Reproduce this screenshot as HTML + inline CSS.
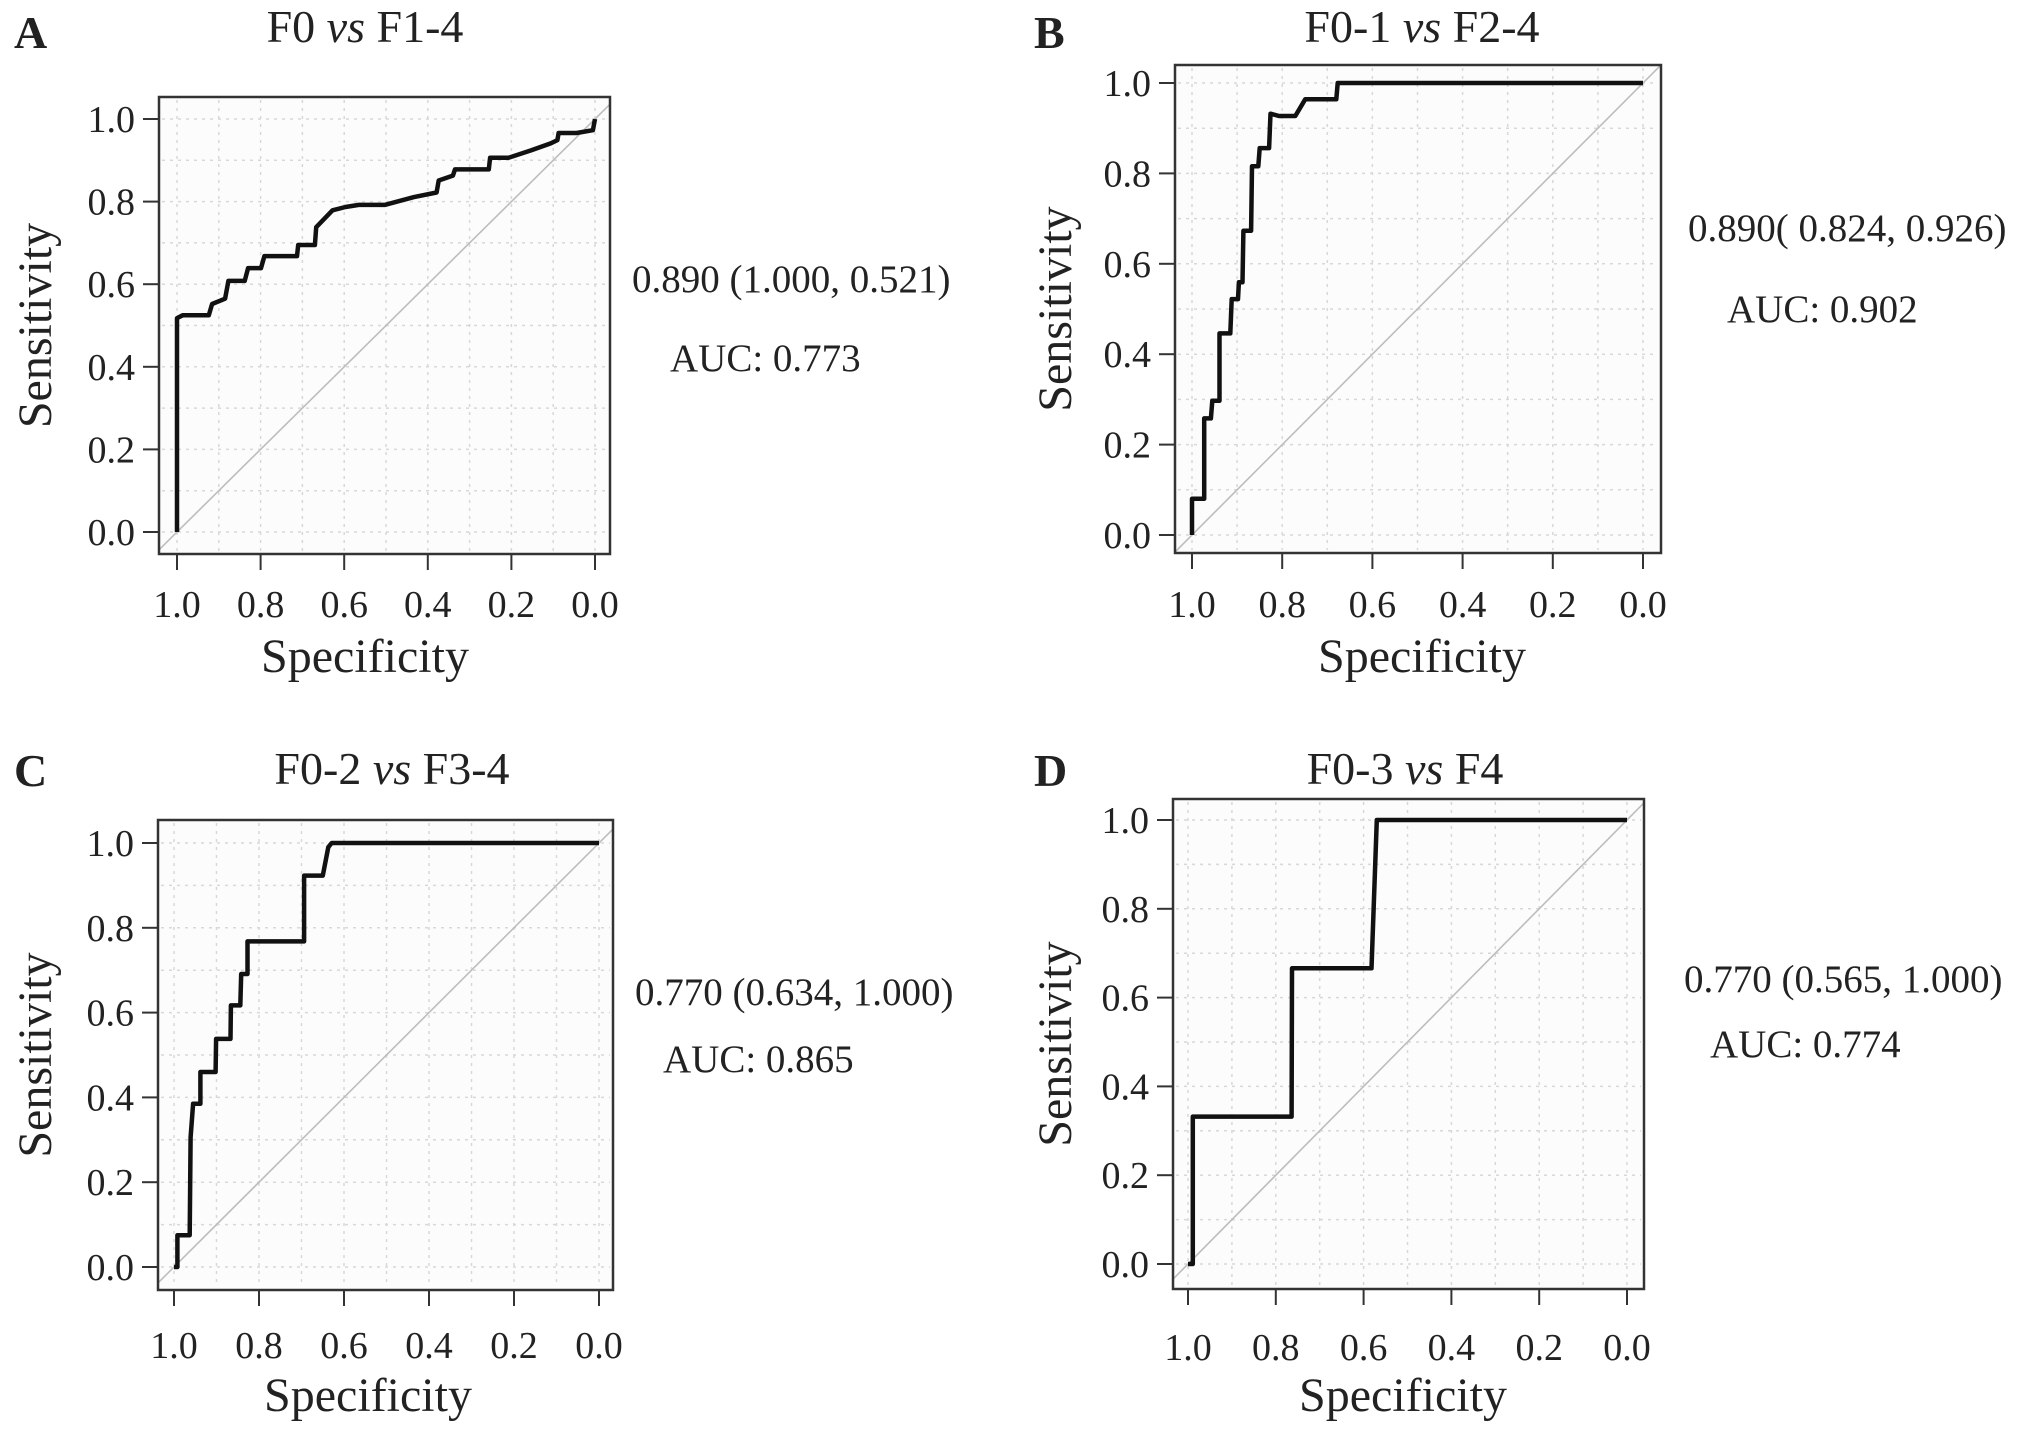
<!DOCTYPE html>
<html><head><meta charset="utf-8"><style>
html,body{margin:0;padding:0;background:#fff;}
svg{display:block;}
text{font-family:"Liberation Serif",serif;fill:#222;}
</style></head><body>
<svg id="fig" width="2031" height="1435" viewBox="0 0 2031 1435" xmlns="http://www.w3.org/2000/svg"></svg>
<script>
// Panel A data
const specA = [1,1,0.986,0.924,0.916,0.885,0.877,0.838,0.830,0.799,0.791,0.713,0.710,0.670,0.667,0.628,0.597,0.565,0.503,0.433,0.379,0.374,0.340,0.335,0.254,0.251,0.207,0.153,0.106,0.090,0.087,0.044,0.005,0];
const sensA = [0,0.518,0.525,0.525,0.552,0.565,0.608,0.608,0.639,0.639,0.668,0.668,0.695,0.695,0.738,0.779,0.787,0.792,0.792,0.811,0.822,0.851,0.863,0.878,0.878,0.906,0.906,0.924,0.941,0.949,0.966,0.966,0.973,1.0];
// Panel B data
const specB = [1,1,0.973,0.973,0.958,0.955,0.939,0.939,0.915,0.912,0.898,0.896,0.888,0.886,0.869,0.867,0.853,0.850,0.829,0.826,0.807,0.771,0.749,0.680,0.677,0];
const sensB = [0,0.08,0.08,0.258,0.258,0.297,0.297,0.446,0.446,0.522,0.522,0.559,0.559,0.673,0.673,0.816,0.816,0.856,0.856,0.932,0.927,0.927,0.964,0.964,1.0,1.0];
// Panel C data
const specC = [1,0.992,0.992,0.963,0.961,0.955,0.938,0.938,0.902,0.901,0.867,0.866,0.844,0.842,0.827,0.827,0.694,0.694,0.650,0.637,0.629,0];
const sensC = [0,0,0.075,0.075,0.306,0.385,0.385,0.460,0.460,0.538,0.538,0.617,0.617,0.691,0.691,0.768,0.768,0.923,0.923,0.99,1.0,1.0];
// Panel D data
const specD = [1,0.989,0.989,0.764,0.763,0.582,0.570,0];
const sensD = [0,0,0.332,0.332,0.666,0.666,1.0,1.0];
// Tick labels
const xTickVals = [1.0,0.8,0.6,0.4,0.2,0.0];
const xTickLabels = ["1.0","0.8","0.6","0.4","0.2","0.0"];
const yTickVals = [0.0,0.2,0.4,0.6,0.8,1.0];
const yTickLabels = ["0.0","0.2","0.4","0.6","0.8","1.0"];
const titlesMain = ["F0 ","F0-1 ","F0-2 ","F0-3 "];
const titlesTail = [" F1-4"," F2-4"," F3-4"," F4"];
const letters = ["A","B","C","D"];
const annots = ["0.890 (1.000, 0.521)","0.890( 0.824, 0.926)","0.770 (0.634, 1.000)","0.770 (0.565, 1.000)"];
const aucs = ["AUC: 0.773","AUC: 0.902","AUC: 0.865","AUC: 0.774"];
const specs = [specA,specB,specC,specD];
const senss = [sensA,sensB,sensC,sensD];

const layout = [
 {L:159,R:610,T:97,B:554,x1:177,x0:595,y1:119,y0:532,tcx:365,tby:42,lx:14,lby:48,tick:617,sx:365,sby:672,senx:36,ax:632,ay:292,bx:670,by:371},
 {L:1175,R:1661,T:65,B:553,x1:1192,x0:1643,y1:83,y0:535,tcx:1422,tby:42,lx:1034,lby:48,tick:617,sx:1422,sby:672,senx:1056,ax:1688,ay:241,bx:1727,by:322},
 {L:158,R:613,T:820,B:1290,x1:174,x0:599,y1:843,y0:1267,tcx:392,tby:784,lx:14,lby:786,tick:1358,sx:368,sby:1411,senx:36,ax:635,ay:1005,bx:663,by:1072},
 {L:1173,R:1644,T:799,B:1289,x1:1188,x0:1627,y1:820,y0:1264,tcx:1405,tby:784,lx:1034,lby:786,tick:1360,sx:1403,sby:1411,senx:1056,ax:1684,ay:992,bx:1710,by:1057}
];
const NS="http://www.w3.org/2000/svg";
const svg=document.getElementById('fig');
function mk(tag,attrs,parent){const e=document.createElementNS(NS,tag);for(const k in attrs)e.setAttribute(k,attrs[k]);(parent||svg).appendChild(e);return e;}

layout.forEach((p,i)=>{
  const g=mk('g',{});
  
  
  const xs=v=>p.x0+(p.x1-p.x0)*v;
  const ys=v=>p.y0+(p.y1-p.y0)*v;
  const bg=mk('rect',{x:p.L,y:p.T,width:p.R-p.L,height:p.B-p.T,fill:'#fcfcfc',stroke:'none'},g);
  
  
  for(let k=0;k<=10;k++){
    const v=k/10;
    const gv=mk('line',{x1:xs(v),x2:xs(v),y1:p.T+3,y2:p.B-3,stroke:'#d8d8d8','stroke-width':1.5,'stroke-dasharray':'3 5'},g);
    
    
    const gh=mk('line',{x1:p.L+3,x2:p.R-3,y1:ys(v),y2:ys(v),stroke:'#d8d8d8','stroke-width':1.5,'stroke-dasharray':'3 5'},g);
    
    
  }
  const t0=(p.L-p.x0)/(p.x1-p.x0), t1=(p.R-p.x0)/(p.x1-p.x0);
  const d=mk('line',{x1:xs(t0),y1:ys(1-t0),x2:xs(t1),y2:ys(1-t1),stroke:'#bdbdbd','stroke-width':1.6},g);
  
  
  const sp=specs[i], se=senss[i];
  const pts=sp.map((s,j)=>xs(s).toFixed(1)+','+ys(se[j]).toFixed(1)).join(' ');
  const c=mk('polyline',{points:pts,fill:'none',stroke:'#111','stroke-width':4.5,'stroke-linejoin':'round'},g);
  
  
  const box=mk('rect',{x:p.L,y:p.T,width:p.R-p.L,height:p.B-p.T,fill:'none',stroke:'#333','stroke-width':2.5},g);
  
  
  xTickVals.forEach((v,k)=>{
    const tk=mk('line',{x1:xs(v),x2:xs(v),y1:p.B,y2:p.B+16,stroke:'#333','stroke-width':2},g);
    
    
    const tl=mk('text',{x:xs(v),y:p.tick,'text-anchor':'middle','font-size':38},g);
    tl.textContent=xTickLabels[k];
    
    
  });
  yTickVals.forEach((v,k)=>{
    const tk=mk('line',{x1:p.L-16,x2:p.L,y1:ys(v),y2:ys(v),stroke:'#333','stroke-width':2},g);
    
    
    const tl=mk('text',{x:p.L-24,y:ys(v)+13,'text-anchor':'end','font-size':38},g);
    tl.textContent=yTickLabels[k];
    
    
  });
  const xt=mk('text',{x:p.sx,y:p.sby,'text-anchor':'middle','font-size':48},g);
  xt.textContent='Specificity';
  
  
  const cy=(p.T+p.B)/2;
  const yt=mk('text',{x:p.senx,y:cy,'text-anchor':'middle','font-size':48,transform:'rotate(-90 '+p.senx+' '+cy+') translate(0 15)'},g);
  yt.textContent='Sensitivity';
  
  
  const tt=mk('text',{x:p.tcx,y:p.tby,'text-anchor':'middle','font-size':46},g);
  
  
  const a=mk('tspan',{},tt);a.textContent=titlesMain[i];
  const b=mk('tspan',{'font-style':'italic'},tt);b.textContent='vs';
  const c2=mk('tspan',{},tt);c2.textContent=titlesTail[i];
  const lt=mk('text',{x:p.lx,y:p.lby,'font-size':46,'font-weight':'bold'},g);
  lt.textContent=letters[i];
  
  
  const an=mk('text',{x:p.ax,y:p.ay,'font-size':39},g);
  an.textContent=annots[i];
  
  
  const au=mk('text',{x:p.bx,y:p.by,'font-size':39},g);
  au.textContent=aucs[i];
  
  
});
</script>
</body></html>
